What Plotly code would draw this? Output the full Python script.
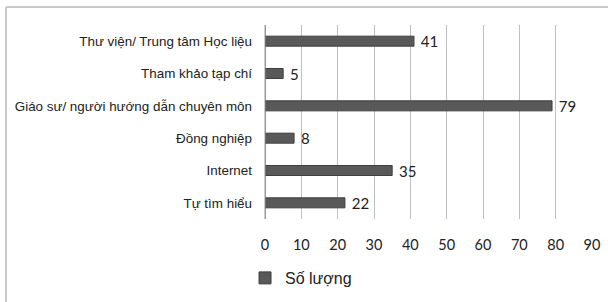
import plotly.graph_objects as go

categories = ["Thư viện/ Trung tâm Học liệu", "Tham khảo tạp chí",
              "Giáo sư/ người hướng dẫn chuyên môn", "Đồng nghiệp",
              "Internet", "Tự tìm hiểu"]
values = [41, 5, 79, 8, 35, 22]
series_name = "Số lượng"
tick_vals = [0, 10, 20, 30, 40, 50, 60, 70, 80, 90]

fig = go.Figure()
fig.add_trace(go.Bar(
    y=categories, x=values, orientation="h", name=series_name,
    marker=dict(color="#595959", line=dict(color="#3f3f3f", width=1)),
    width=0.31,
    texttemplate=" %{x}", textposition="outside",
    constraintext="none",
    textfont=dict(family="Lato, Open Sans, sans-serif", size=15, color="#222"),
    cliponaxis=False,
))

fig.update_layout(
    width=608, height=302,
    margin=dict(l=265, r=16, t=25, b=83),
    paper_bgcolor="white", plot_bgcolor="white",
    showlegend=True,
    legend=dict(xref="container", yref="container", x=0.403, y=0.0795,
                xanchor="left", yanchor="middle",
                orientation="h",
                font=dict(family="Liberation Sans, sans-serif", size=16, color="#222"),
                itemwidth=30),
    xaxis=dict(range=[0, 90], tickvals=tick_vals, showgrid=True,
               gridcolor="#bfbfbf", gridwidth=1, zeroline=True,
               zerolinecolor="#999", zerolinewidth=1, automargin=False,
               tickfont=dict(family="Lato, Open Sans, sans-serif", size=14.5, color="#222"),
               ticks="", ticklabelstandoff=15),
    yaxis=dict(autorange="reversed", showgrid=False, ticks="", automargin=False,
               tickfont=dict(family="Liberation Sans, sans-serif", size=13.4, color="#222"),
               ticklabelstandoff=12),
    shapes=[
        dict(type="line", xref="paper", yref="paper", x0=0, x1=0, y0=0, y1=1,
             line=dict(color="#999", width=1)),
        dict(type="line", xref="paper", yref="paper", x0=-0.792, x1=1.2, y0=1.0928, y1=1.0928,
             line=dict(color="#c8c8c8", width=2)),
        dict(type="line", xref="paper", yref="paper", x0=-0.792, x1=-0.792, y0=1.0928, y1=-0.5,
             line=dict(color="#c8c8c8", width=2)),
    ],
)
fig.write_html("out.html", config={"displayModeBar": False},
               post_script="document.body.style.margin='0';")
